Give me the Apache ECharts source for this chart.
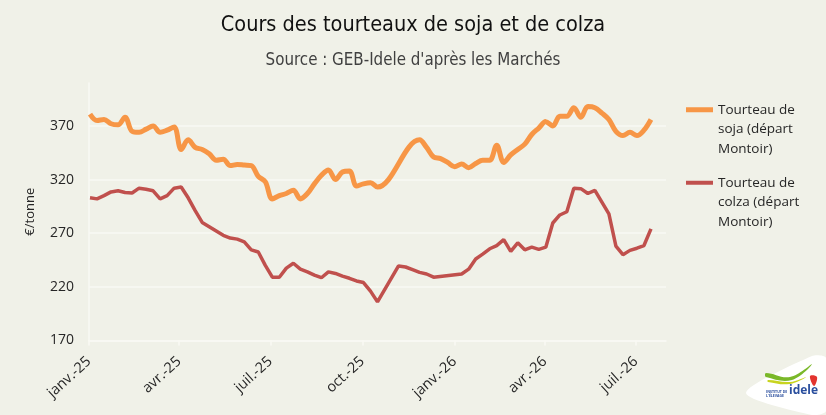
<!DOCTYPE html>
<html>
<head>
<meta charset="utf-8">
<script src="https://cdn.jsdelivr.net/npm/echarts@6/dist/echarts.min.js"></script>
<style>
  html, body { margin: 0; padding: 0; background: #f0f1e8; }
  #myChart { width: 826px; height: 415px; }
</style>
</head>
<body>
<div id="myChart"></div>
<script>
// semaines (prix hebdomadaires)
var dates = [
  '2025-01-02','2025-01-09','2025-01-16','2025-01-23','2025-01-30','2025-02-06','2025-02-13','2025-02-20','2025-02-27',
  '2025-03-06','2025-03-13','2025-03-20','2025-03-27','2025-04-03','2025-04-10','2025-04-17','2025-04-24','2025-05-01',
  '2025-05-08','2025-05-15','2025-05-22','2025-05-29','2025-06-05','2025-06-12','2025-06-19','2025-06-26','2025-07-03',
  '2025-07-10','2025-07-17','2025-07-24','2025-07-31','2025-08-07','2025-08-14','2025-08-21','2025-08-28','2025-09-04',
  '2025-09-11','2025-09-18','2025-09-25','2025-10-02','2025-10-09','2025-10-16','2025-10-23','2025-10-30','2025-11-06',
  '2025-11-13','2025-11-20','2025-11-27','2025-12-04','2025-12-11','2025-12-18','2025-12-25','2026-01-01','2026-01-08',
  '2026-01-15','2026-01-22','2026-01-29','2026-02-05','2026-02-12','2026-02-19','2026-02-26','2026-03-05','2026-03-12',
  '2026-03-19','2026-03-26','2026-04-02','2026-04-09','2026-04-16','2026-04-23','2026-04-30','2026-05-07','2026-05-14',
  '2026-05-21','2026-05-28','2026-06-04','2026-06-11','2026-06-18','2026-06-25','2026-07-02','2026-07-09','2026-07-16'
];

var soja = [
  381,375,376,372,371,378,365,364,367,370,364,366,369,
  348,357,350,348,344,338,339,333,334,333.5,333,323,318,
  302,305,307,310,302,307,316,324,329,320,327,328,314,316,317,313,
  null,null,null,null,null,
  357,
  350,341,339.5,336,332,334.5,331,335,338,338,
  352,336,343,348,353,362,368,374,370,379,
  379,387,378,388,387,382,376,365,361,364,
  361,366,376
];

var colza = [
  303,302,305,308.5,309.5,308,307.5,312,311,309.5,302,305,312,
  313,303,291,280,276,272,268,265.5,264.5,262,254.5,252.5,240,
  229,229,237.5,242,236.5,234,231,228.5,234,232.5,230,228,225.5,224,216,206,
  null,null,
  239.5,
  238.5,236,233.5,232,229,
  null,null,null,
  232,
  236.5,246,250.5,255.5,258.5,264,253,261,254.5,257,
  255,257,279.5,287,290,312,311.5,307,310,299,
  288,258,250,254,256,258.5,274
];

var tickDates = ['2025-01-01','2025-04-01','2025-07-01','2025-10-01','2026-01-01','2026-04-01','2026-07-01'];
var mois = ['janv.','févr.','mars','avr.','mai','juin','juil.','août','sept.','oct.','nov.','déc.'];

var nomSoja = 'Tourteau de soja (départ Montoir)';
var nomColza = 'Tourteau de colza (départ Montoir)';
var legendeSoja = '\u00a0\n\u00a0\nTourteau de\nsoja (départ\nMontoir)';
var legendeColza = '\u00a0\n\u00a0\nTourteau de\ncolza (départ\nMontoir)';

// jours depuis le 1er janvier 2025
var origine = Date.UTC(2025, 0, 1);
function jour(s){
  var p = s.split('-');
  return Math.round((Date.UTC(+p[0], +p[1]-1, +p[2]) - origine) / 86400000);
}
function paires(vals){
  var out = [];
  for (let i in dates) {
    out.push([jour(dates[i]), vals[i]]);
  }
  return out;
}

var fontTxt = "'Open Sans', 'DejaVu Sans', sans-serif";
var fontTitre = "'DejaVu Sans Condensed', 'Liberation Sans Narrow', sans-serif";
var gris = '#f9f9f4';

var myChart = echarts.init(document.getElementById('myChart'));
myChart.setOption({
  backgroundColor: '#f0f1e8',
  animation: false,
  color: ['#f79646', '#c0504d'],
  title: {
    text: 'Cours des tourteaux de soja et de colza',
    subtext: "Source : GEB-Idele d'après les Marchés",
    left: 'center',
    top: 9,
    itemGap: 16,
    textStyle: { fontFamily: fontTitre, fontSize: 21.5, fontWeight: 'normal', color: '#111' },
    subtextStyle: { fontFamily: fontTitre, fontSize: 16.8, color: '#404040' }
  },
  legend: [{
    data: [nomSoja],
    left: 686, top: 61, padding: 0,
    orient: 'vertical',
    icon: 'rect', itemWidth: 27, itemHeight: 5,
    formatter: function(){ return legendeSoja },
    textStyle: { fontFamily: fontTxt, fontSize: 13.5, lineHeight: 19.5, color: '#262626' }
  }, {
    data: [nomColza],
    left: 686, top: 134, padding: 0,
    orient: 'vertical',
    icon: 'rect', itemWidth: 27, itemHeight: 4,
    formatter: function(){ return legendeColza },
    textStyle: { fontFamily: fontTxt, fontSize: 13.5, lineHeight: 19.5, color: '#262626' }
  }],
  grid: { left: 89, right: 160, top: 83, bottom: 74.5 },
  xAxis: {
    type: 'value',
    min: 0,
    max: jour('2026-07-31'),
    axisLine: { lineStyle: { color: gris, width: 1.5 } },
    axisTick: {
      show: true, length: 5,
      customValues: tickDates.map(jour),
      lineStyle: { color: gris, width: 1.5 }
    },
    splitLine: { show: false },
    axisLabel: {
      customValues: tickDates.map(jour),
      rotate: 42,
      margin: 19,
      fontFamily: fontTxt,
      fontSize: 14.5,
      color: '#262626',
      formatter: function(v){
        var d = new Date(origine + v * 86400000);
        return mois[d.getUTCMonth()] + '-' + String(d.getUTCFullYear()).slice(2);
      }
    }
  },
  yAxis: {
    type: 'value',
    min: 170, max: 410, interval: 50,
    name: '€/tonne',
    nameLocation: 'middle',
    nameGap: 52,
    nameRotate: 90,
    nameTextStyle: { fontFamily: fontTxt, fontSize: 13, color: '#262626' },
    axisLine: { show: true, lineStyle: { color: gris, width: 1.5 } },
    axisTick: { show: false },
    axisLabel: {
      showMaxLabel: false,
      margin: 15,
      fontFamily: fontTxt,
      fontSize: 14,
      color: '#262626'
    },
    splitLine: {
      show: true,
      lineStyle: { color: [gris, gris, gris, gris, gris, 'rgba(0,0,0,0)'], width: 1.5 }
    }
  },
  series: [{
    name: nomSoja,
    type: 'line',
    smooth: 0.35,
    connectNulls: true,
    showSymbol: false,
    symbol: 'none',
    lineStyle: { width: 5, color: '#f79646' },
    data: paires(soja)
  }, {
    name: nomColza,
    type: 'line',
    connectNulls: true,
    showSymbol: false,
    symbol: 'none',
    lineStyle: { width: 3.5, color: '#c0504d' },
    data: paires(colza)
  }],
  graphic: [
    { type: 'polygon', silent: true,
      shape: { points: [[746,393],[812,356],[826,358],[826,411],[812,415]], smooth: 0.25 },
      style: { fill: '#ffffff' } },
    { type: 'polygon', silent: true,
      shape: { points: [[766,373],[790,377],[812,364],[792,380],[766,377]], smooth: 0.4 },
      style: { fill: '#7ab829' } },
    { type: 'polygon', silent: true,
      shape: { points: [[768,380],[790,382],[806,377],[790,384],[768,382]], smooth: 0.4 },
      style: { fill: '#c8d41e' } },
    { type: 'polygon', silent: true,
      shape: { points: [[810,376],[817,377],[814,386]], smooth: 0.4 },
      style: { fill: '#e3342f' } },
    { type: 'text', silent: true, left: 766, top: 390,
      style: { text: "INSTITUT DE\nL'ÉLEVAGE", fontSize: 3.5, lineHeight: 4, fill: '#2b4f9e', fontFamily: fontTxt, fontWeight: 'bold' } },
    { type: 'text', silent: true, left: 789, top: 385,
      style: { text: 'idele', fontSize: 12, fill: '#2b4f9e', fontFamily: fontTxt, fontWeight: 'bold' } }
  ]
});
</script>
</body>
</html>
